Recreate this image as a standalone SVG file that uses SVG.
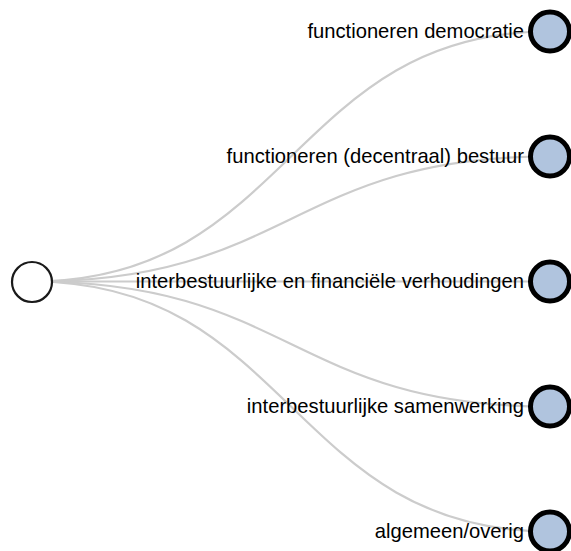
<svg xmlns="http://www.w3.org/2000/svg" width="571" height="551" viewBox="0 0 571 551">
<style>
.link{fill:none;stroke:#cccccc;stroke-width:2.2}
.root{fill:#ffffff;stroke:#1a1a1a;stroke-width:2.2}
.leaf{fill:#b0c4de;stroke:#000000;stroke-width:5}
.lbl{font-family:"Liberation Sans",Arial,Helvetica,sans-serif;font-size:20.2px;fill:#000000;text-anchor:end}
</style>
<rect width="571" height="551" fill="#ffffff"/>
<g id="links">
<path class="link" d="M32,281.5C291,281.5 291,31.5 550,31.5"/>
<path class="link" d="M32,281.5C291,281.5 291,156.5 550,156.5"/>
<path class="link" d="M32,281.5C291,281.5 291,281.5 550,281.5"/>
<path class="link" d="M32,281.5C291,281.5 291,406.5 550,406.5"/>
<path class="link" d="M32,281.5C291,281.5 291,531.5 550,531.5"/>
</g>
<g id="root"><circle class="root" cx="32" cy="282" r="20"/></g>
<g id="n1"><circle class="leaf" cx="550" cy="31.5" r="19.5"/><text class="lbl" x="524" y="38">functioneren democratie</text></g>
<g id="n2"><circle class="leaf" cx="550" cy="156.5" r="19.5"/><text class="lbl" x="524" y="163">functioneren (decentraal) bestuur</text></g>
<g id="n3"><circle class="leaf" cx="550" cy="281.5" r="19.5"/><text class="lbl" x="524" y="288">interbestuurlijke en financiële verhoudingen</text></g>
<g id="n4"><circle class="leaf" cx="550" cy="406.5" r="19.5"/><text class="lbl" x="524" y="413">interbestuurlijke samenwerking</text></g>
<g id="n5"><circle class="leaf" cx="550" cy="531.5" r="19.5"/><text class="lbl" x="524" y="538">algemeen/overig</text></g>
</svg>
